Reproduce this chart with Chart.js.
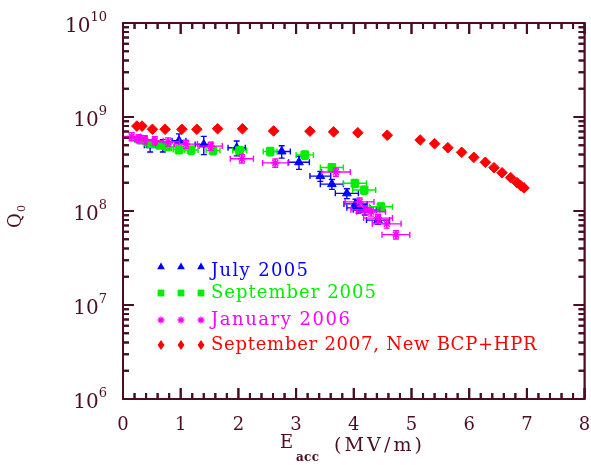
<!DOCTYPE html>
<html>
<head>
<meta charset="utf-8">
<script src="https://cdn.jsdelivr.net/npm/chart.js@4.4.1/dist/chart.umd.min.js"></script>
<style>
  html, body { margin: 0; padding: 0; background: #fff; }
</style>
</head>
<body>
<canvas id="chart" width="591" height="465"></canvas>
<script>
// July 2005
const julyE    = [0.30, 0.47, 0.69, 0.97, 1.40, 1.97, 2.75, 3.05, 3.42, 3.62, 3.88, 4.03, 4.08, 4.19, 4.42];
const julyQ    = [5.8e8, 5.0e8, 5.0e8, 5.6e8, 5.1e8, 4.7e8, 4.3e8, 3.3e8, 2.35e8, 1.93e8, 1.54e8, 1.19e8, 1.08e8, 1.03e8, 8.0e7];
const julyEerr = [0.10, 0.10, 0.12, 0.12, 0.15, 0.15, 0.15, 0.18, 0.18, 0.20, 0.20, 0.20, 0.20, 0.20, 0.20];
const julyQerr = [0.10, 0.15, 0.15, 0.18, 0.22, 0.18, 0.15, 0.16, 0.12, 0.12, 0.12, 0.12, 0.12, 0.12, 0.10];

// September 2005
const sep05E    = [0.31, 0.48, 0.64, 0.78, 0.97, 1.18, 1.56, 2.02, 2.55, 3.15, 3.62, 4.02, 4.18, 4.47];
const sep05Q    = [5.7e8, 5.2e8, 5.0e8, 4.8e8, 4.5e8, 4.45e8, 4.4e8, 4.4e8, 4.3e8, 3.95e8, 2.9e8, 1.97e8, 1.67e8, 1.11e8];
const sep05Eerr = [0.10, 0.10, 0.10, 0.10, 0.10, 0.12, 0.12, 0.12, 0.12, 0.15, 0.20, 0.20, 0.20, 0.20];
const sep05Qerr = [0.08, 0.08, 0.08, 0.08, 0.10, 0.10, 0.10, 0.10, 0.10, 0.10, 0.10, 0.10, 0.10, 0.10];

// January 2006
const jan06E    = [0.15, 0.27, 0.38, 0.55, 0.78, 1.09, 1.52, 2.06, 2.64, 3.69, 4.10, 4.20, 4.30, 4.42, 4.57, 4.73];
const jan06Q    = [6.2e8, 5.9e8, 5.75e8, 5.6e8, 5.45e8, 5.15e8, 4.9e8, 3.6e8, 3.25e8, 2.6e8, 1.25e8, 1.03e8, 9.8e7, 8.4e7, 7.3e7, 5.6e7];
const jan06Eerr = [0.15, 0.15, 0.15, 0.15, 0.20, 0.20, 0.20, 0.20, 0.22, 0.25, 0.25, 0.25, 0.25, 0.25, 0.25, 0.24];
const jan06Qerr = [0.10, 0.10, 0.10, 0.10, 0.10, 0.10, 0.10, 0.10, 0.10, 0.10, 0.10, 0.10, 0.10, 0.10, 0.10, 0.10];

// September 2007, New BCP+HPR
const sep07E = [0.24, 0.33, 0.51, 0.73, 1.02, 1.28, 1.64, 2.07, 2.61, 3.24, 3.65, 4.07, 4.58,
                5.15, 5.40, 5.63, 5.87, 6.08, 6.28, 6.43, 6.57, 6.72, 6.83, 6.89, 6.95];
const sep07Q = [8.0e8, 8.0e8, 7.4e8, 7.4e8, 7.4e8, 7.4e8, 7.5e8, 7.5e8, 7.1e8, 7.06e8, 6.95e8, 6.8e8, 6.4e8,
                5.69e8, 5.2e8, 4.71e8, 4.21e8, 3.72e8, 3.3e8, 2.89e8, 2.55e8, 2.26e8, 2.0e8, 1.87e8, 1.76e8];

const legendLabels = ["July 2005", "September 2005", "January 2006", "September 2007, New BCP+HPR"];
const xTickLabels = [0, 1, 2, 3, 4, 5, 6, 7, 8];
const yDecades = [6, 7, 8, 9, 10];

const axisColor = "#4a0d22";
const serif = "'DejaVu Serif', 'Liberation Serif', serif";

function pts(xs, ys) {
    return xs.map((x, i) => ({ x: x, y: ys[i] }));
}

const series = [
    { label: legendLabels[0], xs: julyE, ys: julyQ, xe: julyEerr, ye: julyQerr, color: "#0000ff", style: "triangle", r: 5 },
    { label: legendLabels[1], xs: sep05E, ys: sep05Q, xe: sep05Eerr, ye: sep05Qerr, color: "#00ee00", style: "rect", r: 5.4 },
    { label: legendLabels[2], xs: jan06E, ys: jan06Q, xe: jan06Eerr, ye: jan06Qerr, color: "#ff00ff", style: "star", r: 4.2 },
    { label: legendLabels[3], xs: sep07E, ys: sep07Q, xe: null, ye: null, color: "#ff0000", style: "rectRot", r: 5.3 }
];

// small marker painter for the legend
function marker(ctx, style, x, y, r, color) {
    ctx.save();
    ctx.fillStyle = color;
    ctx.strokeStyle = color;
    ctx.lineWidth = 1.3;
    ctx.beginPath();
    if (style === "triangle") {
        ctx.moveTo(x, y - r);
        ctx.lineTo(x + r * 0.87, y + r * 0.5);
        ctx.lineTo(x - r * 0.87, y + r * 0.5);
        ctx.closePath();
        ctx.fill();
    } else if (style === "rect") {
        ctx.rect(x - r * 0.75, y - r * 0.75, r * 1.5, r * 1.5);
        ctx.fill();
    } else if (style === "rectRot") {
        ctx.moveTo(x, y - r * 1.15);
        ctx.lineTo(x + r * 0.8, y);
        ctx.lineTo(x, y + r * 1.15);
        ctx.lineTo(x - r * 0.8, y);
        ctx.closePath();
        ctx.fill();
    } else {
        for (let k = 0; k < 4; k++) {
            const ang = k * Math.PI / 4;
            ctx.moveTo(x - Math.cos(ang) * r, y - Math.sin(ang) * r);
            ctx.lineTo(x + Math.cos(ang) * r, y + Math.sin(ang) * r);
        }
        ctx.stroke();
    }
    ctx.restore();
}

// draw text spread out to a given width, like the old plotting fonts
function spaced(ctx, text, x, y, width) {
    const w = ctx.measureText(text).width;
    const gap = text.length > 1 ? (width - w) / (text.length - 1) : 0;
    let cx = x;
    for (const ch of text) {
        ctx.fillText(ch, cx, y);
        cx += ctx.measureText(ch).width + gap;
    }
}

// inward tick marks on all four sides
function drawTicks(chart) {
    const ctx = chart.ctx;
    const area = chart.chartArea;
    const xs = chart.scales.x, ys = chart.scales.y;
    ctx.save();
    ctx.setTransform(1, 0, 0, 1, 0, 0);
    ctx.globalAlpha = 1;
    ctx.globalCompositeOperation = "source-over";
    ctx.setLineDash([]);
    ctx.strokeStyle = axisColor;
    ctx.lineWidth = 2;
    ctx.beginPath();
    for (let i = 0; i <= 40; i++) {
        const px = xs.getPixelForValue(i / 5);
        const len = i % 5 === 0 ? 11 : 6;
        ctx.moveTo(px, area.bottom);
        ctx.lineTo(px, area.bottom - len);
        ctx.moveTo(px, area.top);
        ctx.lineTo(px, area.top + len);
    }
    for (const d of yDecades) {
        for (let m = 1; m <= 9; m++) {
            if (d === 10 && m > 1) break;
            const py = ys.getPixelForValue(m * Math.pow(10, d));
            const len = m === 1 ? 11 : 6;
            ctx.moveTo(area.left, py);
            ctx.lineTo(area.left + len, py);
            ctx.moveTo(area.right, py);
            ctx.lineTo(area.right - len, py);
        }
    }
    ctx.stroke();
    ctx.lineWidth = 1.8;
    ctx.strokeRect(area.left, area.top, area.right - area.left, area.bottom - area.top);
    ctx.restore();
}

const errorBars = {
    id: "errorBars",
    beforeDatasetDraw(chart, args) {
        const s = series[args.index];
        if (!s.xe) return;
        const ctx = chart.ctx;
        const xs = chart.scales.x, ys = chart.scales.y;
        ctx.save();
        ctx.strokeStyle = s.color;
        ctx.lineWidth = 1.4;
        ctx.beginPath();
        s.xs.forEach((xv, i) => {
            const yv = s.ys[i];
            const px = xs.getPixelForValue(xv), py = ys.getPixelForValue(yv);
            const x1 = xs.getPixelForValue(xv - s.xe[i]), x2 = xs.getPixelForValue(xv + s.xe[i]);
            const y1 = ys.getPixelForValue(yv * (1 + s.ye[i])), y2 = ys.getPixelForValue(yv * (1 - s.ye[i]));
            ctx.moveTo(x1, py); ctx.lineTo(x2, py);
            ctx.moveTo(x1, py - 3); ctx.lineTo(x1, py + 3);
            ctx.moveTo(x2, py - 3); ctx.lineTo(x2, py + 3);
            ctx.moveTo(px, y1); ctx.lineTo(px, y2);
            ctx.moveTo(px - 3, y1); ctx.lineTo(px + 3, y1);
            ctx.moveTo(px - 3, y2); ctx.lineTo(px + 3, y2);
        });
        ctx.stroke();
        ctx.restore();
    }
};

// frame first (under the data), then all text and the legend on top
const decor = {
    id: "decor",
    beforeDatasetsDraw(chart) {
        drawTicks(chart);
    },
    afterDraw(chart) {
        drawTicks(chart);
        const ctx = chart.ctx;
        const xs = chart.scales.x, ys = chart.scales.y;
        ctx.save();
        ctx.fillStyle = axisColor;
        ctx.font = "18px " + serif;
        ctx.textAlign = "center";
        ctx.textBaseline = "alphabetic";
        xTickLabels.forEach(v => {
            ctx.fillText(String(v), xs.getPixelForValue(v), 430);
        });

        ctx.textAlign = "left";
        yDecades.forEach(d => {
            const py = ys.getPixelForValue(Math.pow(10, d));
            ctx.font = "13px " + serif;
            const ew = ctx.measureText(String(d)).width;
            ctx.fillText(String(d), 107 - ew, py - 2);
            ctx.font = "20px " + serif;
            const bw = ctx.measureText("10").width;
            ctx.fillText("10", 107 - ew - bw, py + 9);
        });

        ctx.font = "18px " + serif;
        ctx.fillText("E", 280, 448);
        ctx.font = "bold 12px " + serif;
        spaced(ctx, "acc", 296, 461, 23);
        ctx.font = "19px " + serif;
        spaced(ctx, "(MV/m)", 334, 451, 88);

        ctx.save();
        ctx.translate(21, 228);
        ctx.rotate(-Math.PI / 2);
        ctx.font = "18px " + serif;
        ctx.fillText("Q", 0, 0);
        ctx.font = "11px " + serif;
        ctx.fillText("0", 16, 4);
        ctx.restore();

        const rows = [267, 293, 320, 345];
        const bases = [276, 298, 325, 350];
        const widths = [97, 165, 139, 326];
        const mr = [4.5, 4.5, 3.5, 4.3];
        series.forEach((s, i) => {
            [161, 181, 201].forEach(mx => marker(ctx, s.style, mx, rows[i], mr[i], s.color));
            ctx.fillStyle = s.color;
            ctx.font = "18px " + serif;
            spaced(ctx, s.label, 211, bases[i], widths[i]);
        });
        ctx.restore();
    }
};

new Chart(document.getElementById("chart"), {
    type: "scatter",
    data: {
        datasets: series.map((s, i) => ({
            label: s.label,
            data: pts(s.xs, s.ys),
            pointStyle: s.style,
            pointRadius: s.r,
            pointBackgroundColor: s.color,
            pointBorderColor: s.color,
            pointBorderWidth: s.style === "star" ? 1.5 : 1,
            order: 3 - i
        }))
    },
    options: {
        responsive: false,
        animation: false,
        events: [],
        layout: { padding: { left: 123, right: 6, top: 23, bottom: 66 } },
        plugins: { legend: { display: false }, tooltip: { enabled: false } },
        scales: {
            x: { type: "linear", min: 0, max: 8, display: false },
            y: { type: "logarithmic", min: 1e6, max: 1e10, display: false }
        }
    },
    plugins: [decor, errorBars]
});
</script>
</body>
</html>
